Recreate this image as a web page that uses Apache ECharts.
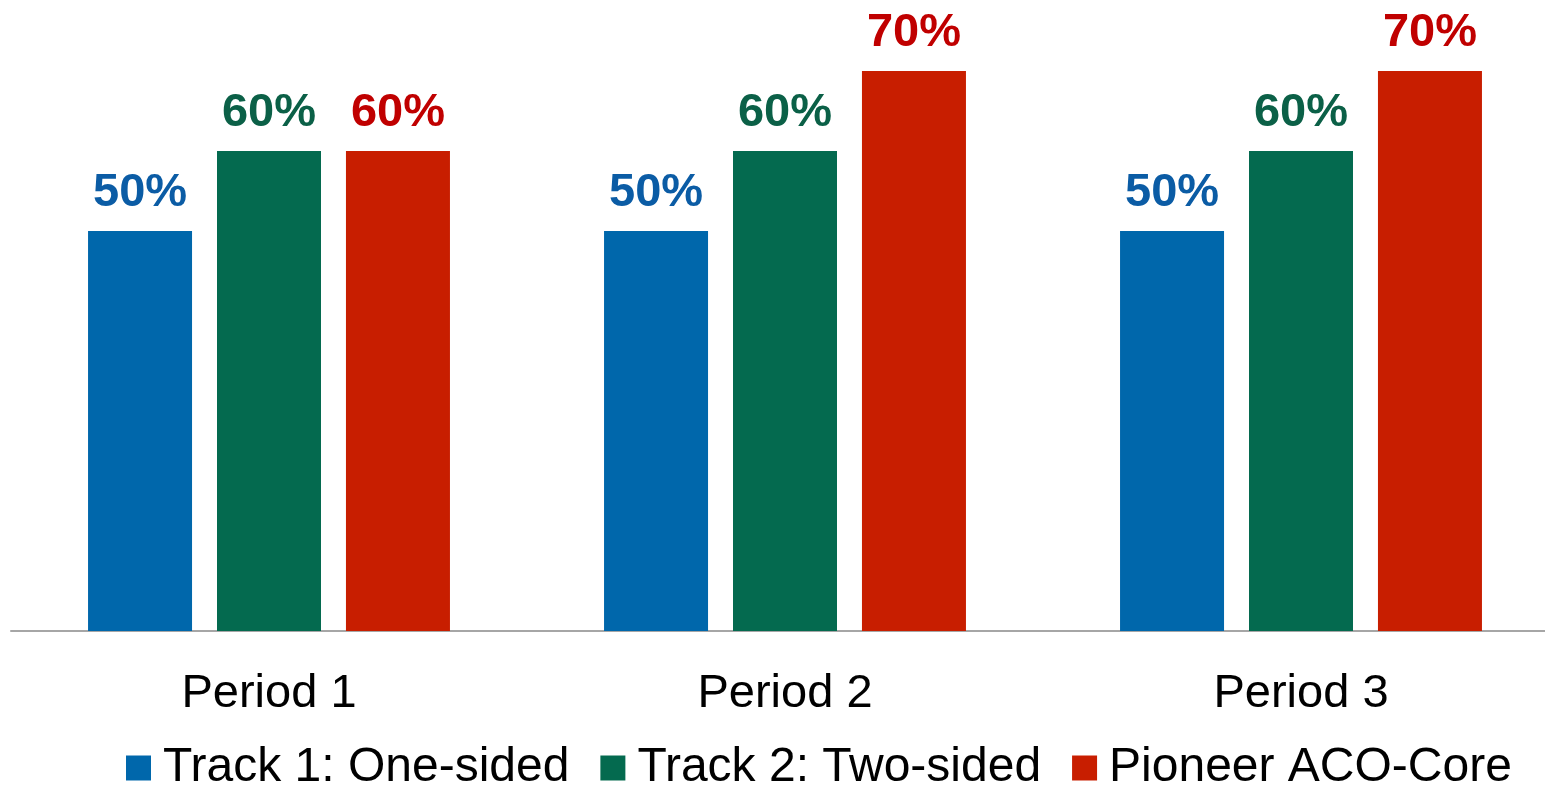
<!DOCTYPE html>
<html>
<head>
<meta charset="utf-8">
<script src="https://cdn.jsdelivr.net/npm/echarts@6/dist/echarts.min.js"></script>
<style>
  html, body { margin: 0; padding: 0; background: #ffffff; overflow: hidden; }
  /* canvas is a little wider than the window so the last group sits near the edge */
  #chart { width: 1559px; height: 790px; }
</style>
</head>
<body>
<div id="chart"></div>
<script>
// Periods along the x axis
const categories = ['Period 1', 'Period 2', 'Period 3'];

// Share per track and period (percent)
const track1OneSided = [50, 50, 50];
const track2TwoSided = [60, 60, 60];
const pioneerAcoCore = [60, 70, 70];

const seriesNames = ['Track 1: One-sided', 'Track 2: Two-sided', 'Pioneer ACO-Core'];
const barColors = ['#0067AB', '#046A4F', '#C81E00'];
const labelColors = ['#0B5CA5', '#0B6047', '#C00000'];

const FONT = '"Liberation Sans", Arial, sans-serif';

function makeSeries(name, data, idx) {
  return {
    name: name,
    type: 'bar',
    data: data,
    barWidth: 104,
    barGap: '24%',
    itemStyle: { color: barColors[idx] },
    label: {
      show: true,
      position: 'top',
      distance: 14,
      formatter: '{c}%',
      color: labelColors[idx],
      fontFamily: FONT,
      fontWeight: 'bold',
      fontSize: 47
    },
    emphasis: { disabled: true }
  };
}

const chart = echarts.init(document.getElementById('chart'), null, { renderer: 'canvas' });

chart.setOption({
  animation: false,
  backgroundColor: '#ffffff',
  grid: { left: 11, right: 0, top: 31, bottom: 159, containLabel: false, outerBoundsMode: 'none' },
  legend: {
    left: 126,
    top: 744,
    padding: 0,
    itemWidth: 25,
    itemHeight: 25,
    itemGap: 31,
    icon: 'rect',
    textStyle: { fontFamily: FONT, fontSize: 48, color: '#000000', padding: [0, 0, 0, 7] },
    data: seriesNames
  },
  xAxis: {
    type: 'category',
    data: categories,
    axisLine: { show: true, lineStyle: { color: '#A6A6A6', width: 2 } },
    axisTick: { show: false },
    axisLabel: { fontFamily: FONT, fontSize: 47, color: '#000000', margin: 40 }
  },
  yAxis: {
    type: 'value',
    min: 0,
    max: 75,
    show: false,
    splitLine: { show: false }
  },
  series: [
    makeSeries(seriesNames[0], track1OneSided, 0),
    makeSeries(seriesNames[1], track2TwoSided, 1),
    makeSeries(seriesNames[2], pioneerAcoCore, 2)
  ]
});
</script>
</body>
</html>
